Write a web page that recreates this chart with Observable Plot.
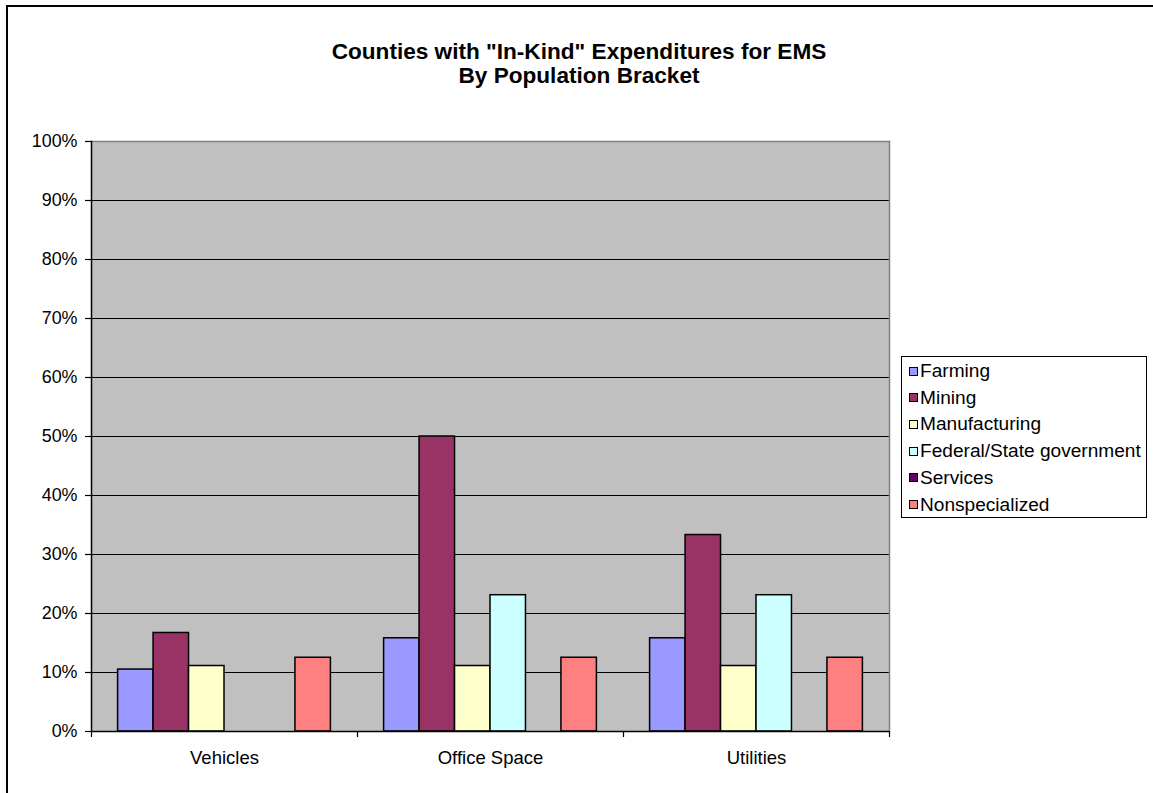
<!DOCTYPE html>
<html>
<head>
<meta charset="utf-8">
<script src="https://cdn.jsdelivr.net/npm/d3@7"></script>
<script src="https://cdn.jsdelivr.net/npm/@observablehq/plot@0.6"></script>
<style>
  html, body { margin: 0; padding: 0; background: #fff; }
  body { font-family: "Liberation Sans", Arial, sans-serif; }
  #chart { position: relative; width: 1153px; height: 793px; overflow: hidden; }
  #chart svg { position: absolute; left: 0; top: 0; }
  .outer { position: absolute; left: 6px; top: 5px; width: 1170px; height: 810px; border: 2px solid #000; box-sizing: border-box; pointer-events: none; }
  .title { position: absolute; left: 0; width: 1158px; top: 40px; text-align: center; font-weight: bold; font-size: 22.6px; line-height: 24px; color: #000; }
  .legend { position: absolute; left: 901px; top: 356px; width: 246px; height: 162px; border: 1px solid #000; box-sizing: border-box; background: #fff; }
  .legend .row { position: absolute; left: 7px; height: 22px; display: flex; align-items: center; font-size: 19.1px; color: #000; white-space: nowrap; }
  .legend .sw { width: 9px; height: 9px; border: 1px solid #000; box-sizing: border-box; margin-right: 2px; flex: none; }
</style>
</head>
<body>
<div id="chart">
  <div class="outer"></div>
</div>
<script>
// Categories along the x axis
const categories = ["Vehicles", "Office Space", "Utilities"];

// Series (county types) and their fills
const seriesNames = ["Farming", "Mining", "Manufacturing", "Federal/State government", "Services", "Nonspecialized"];
const seriesColors = ["#9999FF", "#993366", "#FFFFCC", "#CCFFFF", "#660066", "#FF8080"];

// Share of counties per category, one array per series (Vehicles, Office Space, Utilities)
const farming        = [0.105, 0.158, 0.158];
const mining         = [0.167, 0.500, 0.333];
const manufacturing  = [0.111, 0.111, 0.111];
const federalState   = [0.000, 0.231, 0.231];
const services       = [0.000, 0.000, 0.000];
const nonspecialized = [0.125, 0.125, 0.125];

// Y axis tick values
const yTicks = [0, 0.1, 0.2, 0.3, 0.4, 0.5, 0.6, 0.7, 0.8, 0.9, 1.0];

const titleLines = ["Counties with \"In-Kind\" Expenditures for EMS", "By Population Bracket"];

// Clustered layout in slot units: each category holds one slot per series,
// with a gap of 0.75 slot on either side of the cluster.
const gapSlots = 0.75;
const groupSlots = seriesNames.length + 2 * gapSlots;

const seriesValues = [farming, mining, manufacturing, federalState, services, nonspecialized];
const data = [];
categories.forEach((category, ci) => {
  seriesNames.forEach((series, si) => {
    const x1 = ci * groupSlots + gapSlots + si;
    data.push({category, series, value: seriesValues[si][ci], x1, x2: x1 + 1});
  });
});
const groupEdges = d3.range(categories.length + 1).map(i => i * groupSlots);
const groupCenters = categories.map((c, i) => (i + 0.5) * groupSlots);

const W = 1153, H = 793;
const font = "'Liberation Sans', Arial, sans-serif";

const chart = Plot.plot({
  width: W,
  height: H,
  marginTop: 141,
  marginBottom: 62,
  marginLeft: 91,
  marginRight: 264,
  style: {fontFamily: font, fontSize: "17.9px", color: "#000", background: "transparent", overflow: "visible"},
  x: {domain: [0, categories.length * groupSlots], axis: null},
  y: {domain: [0, 1], axis: null},
  color: {domain: seriesNames, range: seriesColors},
  marks: [
    // gray plot area
    Plot.frame({fill: "#C0C0C0"}),
    // horizontal gridlines
    Plot.ruleY(yTicks.slice(1, -1), {stroke: "#000", strokeWidth: 1}),
    // plot area border (top and right)
    Plot.frame({anchor: "top", stroke: "#808080", strokeWidth: 1.5}),
    Plot.frame({anchor: "right", stroke: "#808080", strokeWidth: 1.5}),
    // bars
    Plot.rect(data, {
      x1: "x1", x2: "x2", y1: 0, y2: "value",
      fill: "series", stroke: "#000", strokeWidth: 1.5
    }),
    // baseline and y axis line
    Plot.ruleY([0], {stroke: "#000", strokeWidth: 1.5}),
    Plot.frame({anchor: "left", stroke: "#000", strokeWidth: 1.5}),
    // y axis ticks and labels
    Plot.axisY(yTicks, {
      tickFormat: d3.format(".0%"), tickSize: 6, tickPadding: 8,
      stroke: "#000", strokeWidth: 1.2, fontSize: 17.9, label: null
    }),
    // category separator ticks below the baseline
    Plot.axisX(groupEdges, {anchor: "bottom", tickSize: 6, tickFormat: () => "", stroke: "#000", strokeWidth: 1.2, label: null}),
    // category labels
    Plot.axisX(groupCenters, {
      anchor: "bottom", tickSize: 0, tickPadding: 19, fontSize: 18.5, label: null,
      tickFormat: d => categories[Math.floor(d / groupSlots)]
    })
  ]
});

const root = document.getElementById("chart");
root.insertBefore(chart, root.firstChild);

// Title
const title = document.createElement("div");
title.className = "title";
title.innerHTML = titleLines.map(t => `<div>${t.replace(/"/g, "&quot;")}</div>`).join("");
root.appendChild(title);

// Legend
const legend = document.createElement("div");
legend.className = "legend";
seriesNames.forEach((name, i) => {
  const row = document.createElement("div");
  row.className = "row";
  row.style.top = (3 + i * 26.7) + "px";
  const sw = document.createElement("span");
  sw.className = "sw";
  sw.style.background = seriesColors[i];
  const label = document.createElement("span");
  label.textContent = name;
  row.appendChild(sw);
  row.appendChild(label);
  legend.appendChild(row);
});
root.appendChild(legend);
</script>
</body>
</html>
